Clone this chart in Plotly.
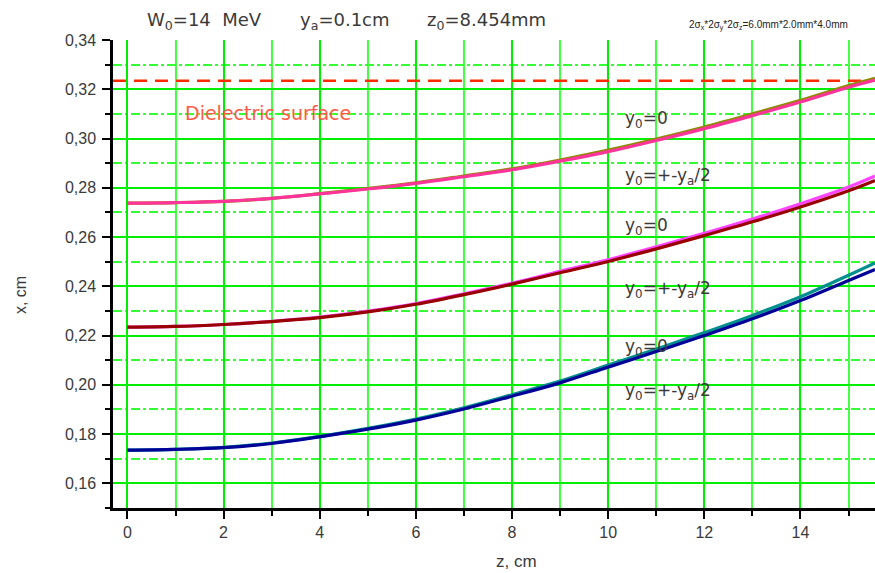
import plotly.graph_objects as go

# ---- data ----
z = [0, 1, 2, 3, 4, 5, 6, 7, 8, 9, 10, 11, 12, 13, 14, 15, 15.55]
x_top_pink = [0.2738, 0.2740, 0.2745, 0.2757, 0.2775, 0.2795, 0.2818, 0.2845, 0.2873, 0.2908,
              0.2947, 0.2992, 0.3040, 0.3093, 0.3148, 0.3208, 0.3237]
x_top_olive = [0.2738, 0.2740, 0.2745, 0.2757, 0.2776, 0.2797, 0.2820, 0.2848, 0.2877, 0.2913,
               0.2953, 0.2998, 0.3047, 0.3100, 0.3155, 0.3215, 0.3245]
x_mid_darkred = [0.2234, 0.2237, 0.2245, 0.2257, 0.2273, 0.2296, 0.2327, 0.2366, 0.2409, 0.2455,
                 0.2501, 0.2552, 0.2606, 0.2662, 0.2722, 0.2788, 0.2830]
x_mid_magenta = [0.2234, 0.2237, 0.2245, 0.2258, 0.2275, 0.2299, 0.2330, 0.2370, 0.2413, 0.2461,
                 0.2508, 0.2560, 0.2615, 0.2673, 0.2735, 0.2803, 0.2848]
x_bot_navy = [0.1735, 0.1738, 0.1745, 0.1762, 0.1789, 0.1820, 0.1857, 0.1902, 0.1954, 0.2008,
              0.2072, 0.2135, 0.2200, 0.2268, 0.2342, 0.2424, 0.2468]
x_bot_teal = [0.1735, 0.1738, 0.1746, 0.1764, 0.1791, 0.1823, 0.1861, 0.1907, 0.1960, 0.2015,
              0.2080, 0.2145, 0.2212, 0.2282, 0.2358, 0.2445, 0.2495]
surface_x = 0.3235
surface_z = [-0.3, 15.55]

curve_labels = ["y<sub>0</sub>=0", "y<sub>0</sub>=+-y<sub>a</sub>/2",
                "y<sub>0</sub>=0", "y<sub>0</sub>=+-y<sub>a</sub>/2",
                "y<sub>0</sub>=0", "y<sub>0</sub>=+-y<sub>a</sub>/2"]
curve_label_pos = [0.3076, 0.2845, 0.2642, 0.2387, 0.2152, 0.1973]

FONT = "Liberation Sans, Arial, sans-serif"
WIDE = "DejaVu Sans, Liberation Sans, sans-serif"
TXT = "#3a3a3a"

fig = go.Figure()
fig.add_trace(go.Scatter(x=surface_z, y=[surface_x, surface_x], mode="lines",
                         line=dict(color="#ff2a00", width=2.5, dash="13px,8px"), hoverinfo="skip"))
series = [
    (x_top_olive, "#8c8c00"), (x_top_pink, "#ff3399"),
    (x_mid_magenta, "#ff44ff"), (x_mid_darkred, "#990000"),
    (x_bot_teal, "#008f8f"), (x_bot_navy, "#000099"),
]
for ys, col in series:
    fig.add_trace(go.Scatter(x=z, y=ys, mode="lines", line=dict(color=col, width=3.2, shape="spline")))

ann = []
ann.append(dict(x=1.15, y=0.3104, xref="x", yref="y", text="Dielectric surface", showarrow=False,
                xanchor="left", yanchor="middle", font=dict(family=WIDE, size=19, color="#ff5a45")))
for t, yv in zip(curve_labels, curve_label_pos):
    ann.append(dict(x=10.3, y=yv, xref="x", yref="y", text=t, showarrow=False,
                    xanchor="left", yanchor="middle", font=dict(family=WIDE, size=17, color=TXT)))
ann.append(dict(x=0.042, y=1.04, xref="paper", yref="paper", text="W<sub>0</sub>=14&nbsp; MeV", showarrow=False,
                xanchor="left", yanchor="middle", font=dict(family=WIDE, size=18, color=TXT)))
ann.append(dict(x=0.243, y=1.04, xref="paper", yref="paper", text="y<sub>a</sub>=0.1cm", showarrow=False,
                xanchor="left", yanchor="middle", font=dict(family=WIDE, size=18, color=TXT)))
ann.append(dict(x=0.409, y=1.04, xref="paper", yref="paper", text="z<sub>0</sub>=8.454mm", showarrow=False,
                xanchor="left", yanchor="middle", font=dict(family=WIDE, size=18, color=TXT)))
ann.append(dict(x=0.753, y=1.032, xref="paper", yref="paper",
                text="2σ<sub>x</sub>*2σ<sub>y</sub>*2σ<sub>z</sub>=6.0mm*2.0mm*4.0mm", showarrow=False,
                xanchor="left", yanchor="middle", font=dict(family=FONT, size=10, color="#222")))
ann.append(dict(x=-0.122, y=0.455, xref="paper", yref="paper", text="x, cm", showarrow=False,
                textangle=-90, xanchor="center", yanchor="middle", font=dict(family=FONT, size=16, color=TXT)))
ann.append(dict(x=0.529, y=-0.115, xref="paper", yref="paper", text="z, cm", showarrow=False,
                xanchor="center", yanchor="middle", font=dict(family=FONT, size=17, color=TXT)))

fig.update_layout(
    width=875, height=573,
    margin=dict(l=113, r=0, t=40, b=65),
    paper_bgcolor="white", plot_bgcolor="white",
    showlegend=False, separators=",.",
    annotations=ann,
    font=dict(family=FONT, color=TXT),
)
fig.update_xaxes(
    range=[-0.3, 15.55], tickmode="linear", tick0=0, dtick=2,
    showgrid=True, gridcolor="#00ee00", gridwidth=2,
    showline=True, linecolor="black", linewidth=2.5,
    ticks="outside", ticklen=8, tickwidth=2, tickcolor="black",
    tickfont=dict(family=FONT, size=16, color=TXT),
    minor=dict(dtick=1, tick0=0, showgrid=True, gridcolor="#44ff44", gridwidth=1.5,
               ticks="outside", ticklen=5, tickwidth=2, tickcolor="black"),
    zeroline=False, automargin=False,
)
fig.update_yaxes(
    range=[0.15, 0.34], tickmode="linear", tick0=0.16, dtick=0.02, tickformat=".2f",
    showgrid=True, gridcolor="#00ee00", gridwidth=2,
    showline=True, linecolor="black", linewidth=2.5,
    ticks="outside", ticklen=8, tickwidth=2, tickcolor="black", ticklabelstandoff=3,
    tickfont=dict(family=FONT, size=16, color=TXT),
    minor=dict(dtick=0.01, tick0=0.15, showgrid=True, gridcolor="#33ff33", gridwidth=1.5,
               griddash="dashdot", ticks="outside", ticklen=5, tickwidth=2, tickcolor="black"),
    zeroline=False, automargin=False,
)

fig.write_html("out.html", config={"displayModeBar": False},
               post_script="document.body.style.margin='0';document.body.style.overflow='hidden';")
